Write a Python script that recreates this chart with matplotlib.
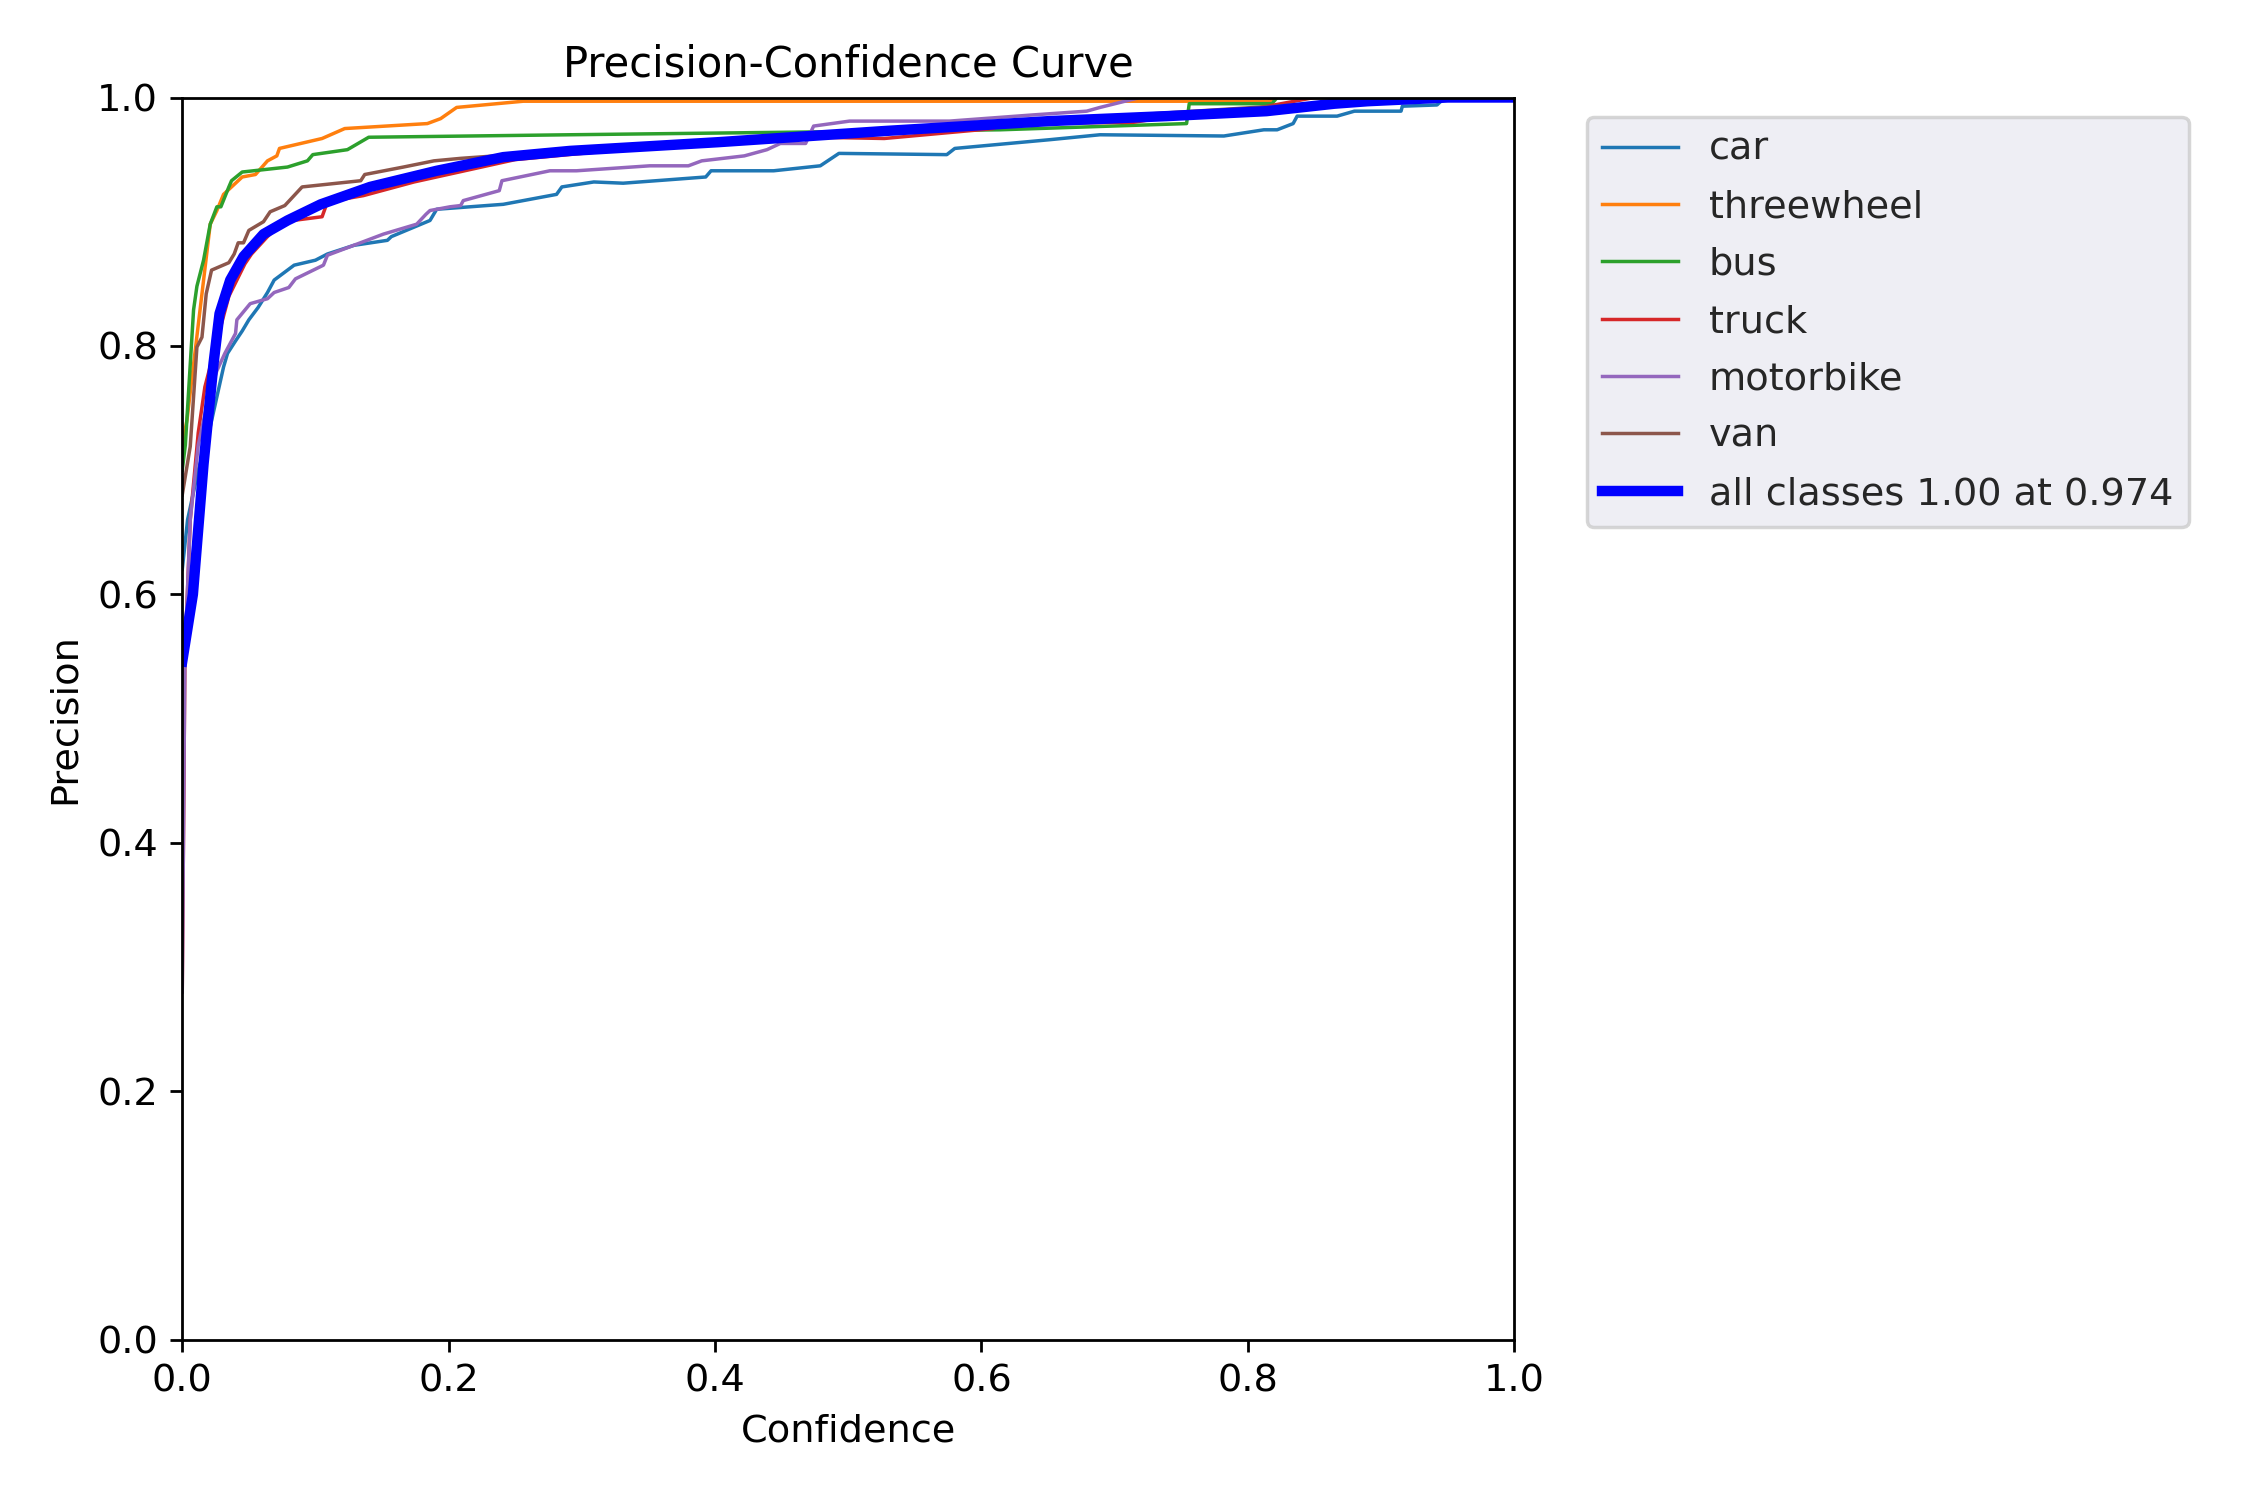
import matplotlib
matplotlib.use("Agg")
import matplotlib.pyplot as plt

names = ["car", "threewheel", "bus", "truck", "motorbike", "van"]

car_x = [0.0, 0.004, 0.012, 0.020, 0.026, 0.031, 0.034, 0.040, 0.045, 0.050, 0.057, 0.064, 0.069,
         0.084, 0.100, 0.109, 0.129, 0.154, 0.157, 0.186, 0.191, 0.241, 0.281, 0.285, 0.309,
         0.331, 0.393, 0.397, 0.444, 0.479, 0.493, 0.574, 0.580, 0.651, 0.689, 0.782, 0.812,
         0.822, 0.834, 0.837, 0.867, 0.880, 0.915, 0.916, 0.942, 0.948, 1.0]
car_y = [0.62, 0.66, 0.70, 0.73, 0.759, 0.783, 0.794, 0.804, 0.812, 0.821, 0.831, 0.843, 0.853,
         0.865, 0.869, 0.874, 0.881, 0.885, 0.888, 0.901, 0.910, 0.914, 0.922, 0.928, 0.932,
         0.931, 0.936, 0.941, 0.941, 0.945, 0.955, 0.954, 0.959, 0.966, 0.970, 0.969, 0.974,
         0.974, 0.979, 0.985, 0.985, 0.989, 0.989, 0.993, 0.994, 1.0, 1.0]

three_x = [0.0, 0.0035, 0.0148, 0.021, 0.026, 0.031, 0.041, 0.045, 0.055, 0.064, 0.071, 0.073,
           0.105, 0.122, 0.184, 0.194, 0.206, 0.256, 0.815, 0.822, 1.0]
three_y = [0.72, 0.74, 0.842, 0.898, 0.909, 0.922, 0.932, 0.936, 0.938, 0.949, 0.953, 0.959,
           0.967, 0.975, 0.979, 0.983, 0.992, 0.997, 0.997, 1.0, 1.0]

bus_x = [0.0, 0.0023, 0.0085, 0.011, 0.016, 0.021, 0.026, 0.029, 0.035, 0.037, 0.045, 0.079,
         0.094, 0.098, 0.124, 0.140, 0.291, 0.614, 0.754, 0.756, 0.818, 0.822, 1.0]
bus_y = [0.70, 0.72, 0.829, 0.848, 0.869, 0.898, 0.912, 0.912, 0.928, 0.933, 0.940, 0.944,
         0.949, 0.954, 0.958, 0.968, 0.970, 0.974, 0.979, 0.995, 0.995, 1.0, 1.0]

truck_x = [0.0, 0.002, 0.006, 0.012, 0.017, 0.025, 0.035, 0.047, 0.052, 0.064, 0.076, 0.105,
           0.109, 0.136, 0.174, 0.25, 0.35, 0.45, 0.477, 0.527, 0.609, 0.614, 0.714, 0.75,
           0.80, 0.85, 1.0]
truck_y = [0.28, 0.55, 0.66, 0.73, 0.767, 0.80, 0.84, 0.866, 0.874, 0.888, 0.900, 0.904,
           0.916, 0.921, 0.932, 0.950, 0.960, 0.966, 0.968, 0.967, 0.975, 0.979, 0.980, 0.986,
           0.990, 1.0, 1.0]

moto_x = [0.0, 0.002, 0.006, 0.012, 0.020, 0.026, 0.032, 0.040, 0.041, 0.051, 0.064, 0.069,
          0.080, 0.085, 0.106, 0.109, 0.151, 0.176, 0.183, 0.186, 0.201, 0.209, 0.211, 0.238,
          0.240, 0.276, 0.296, 0.351, 0.380, 0.390, 0.422, 0.439, 0.449, 0.468, 0.474, 0.501,
          0.576, 0.639, 0.679, 0.689, 0.719, 1.0]
moto_y = [0.28, 0.55, 0.66, 0.72, 0.76, 0.780, 0.794, 0.810, 0.821, 0.834, 0.838, 0.843,
          0.847, 0.854, 0.865, 0.873, 0.890, 0.898, 0.906, 0.909, 0.912, 0.913, 0.917, 0.925,
          0.933, 0.941, 0.941, 0.945, 0.945, 0.949, 0.953, 0.958, 0.963, 0.963, 0.977, 0.981,
          0.981, 0.986, 0.989, 0.992, 1.0, 1.0]

van_x = [0.0, 0.006, 0.011, 0.0148, 0.018, 0.022, 0.035, 0.039, 0.042, 0.046, 0.050, 0.061,
         0.066, 0.077, 0.090, 0.134, 0.137, 0.166, 0.189, 0.209, 0.30, 0.50, 0.70, 0.85,
         0.90, 1.0]
van_y = [0.68, 0.719, 0.799, 0.807, 0.842, 0.861, 0.867, 0.874, 0.883, 0.883, 0.893, 0.900,
         0.908, 0.913, 0.928, 0.933, 0.938, 0.944, 0.949, 0.951, 0.958, 0.972, 0.985, 0.995,
         1.0, 1.0]

mean_x = [0.0, 0.008, 0.016, 0.0235, 0.028, 0.036, 0.046, 0.061, 0.079, 0.104, 0.141, 0.191,
          0.241, 0.291, 0.402, 0.527, 0.651, 0.739, 0.814, 0.865, 0.89, 0.95, 1.0]
mean_y = [0.546, 0.60, 0.705, 0.786, 0.826, 0.853, 0.872, 0.890, 0.901, 0.914, 0.928, 0.941,
          0.952, 0.957, 0.964, 0.973, 0.981, 0.985, 0.989, 0.995, 0.997, 1.0, 1.0]

series = [(car_x, car_y), (three_x, three_y), (bus_x, bus_y),
          (truck_x, truck_y), (moto_x, moto_y), (van_x, van_y)]

plt.rcParams["font.size"] = 11

fig, ax = plt.subplots(1, 1, figsize=(9, 6))
for name, (xs, ys) in zip(names, series):
    ax.plot(xs, ys, linewidth=1, label=name)
ax.plot(mean_x, mean_y, linewidth=3, color="blue", label="all classes 1.00 at 0.974")

ax.set_xlabel("Confidence")
ax.set_ylabel("Precision")
ax.set_xlim(0, 1)
ax.set_ylim(0, 1)
ax.set_title("Precision-Confidence Curve", fontsize=12)
leg = ax.legend(bbox_to_anchor=(1.04, 1), loc="upper left", facecolor="#EAEAF2",
                edgecolor="0.8", framealpha=0.8, labelcolor="0.15", labelspacing=0.56)
plt.subplots_adjust(left=0.081, right=0.673, top=0.935, bottom=0.107)
fig.savefig("out.png", dpi=250)
